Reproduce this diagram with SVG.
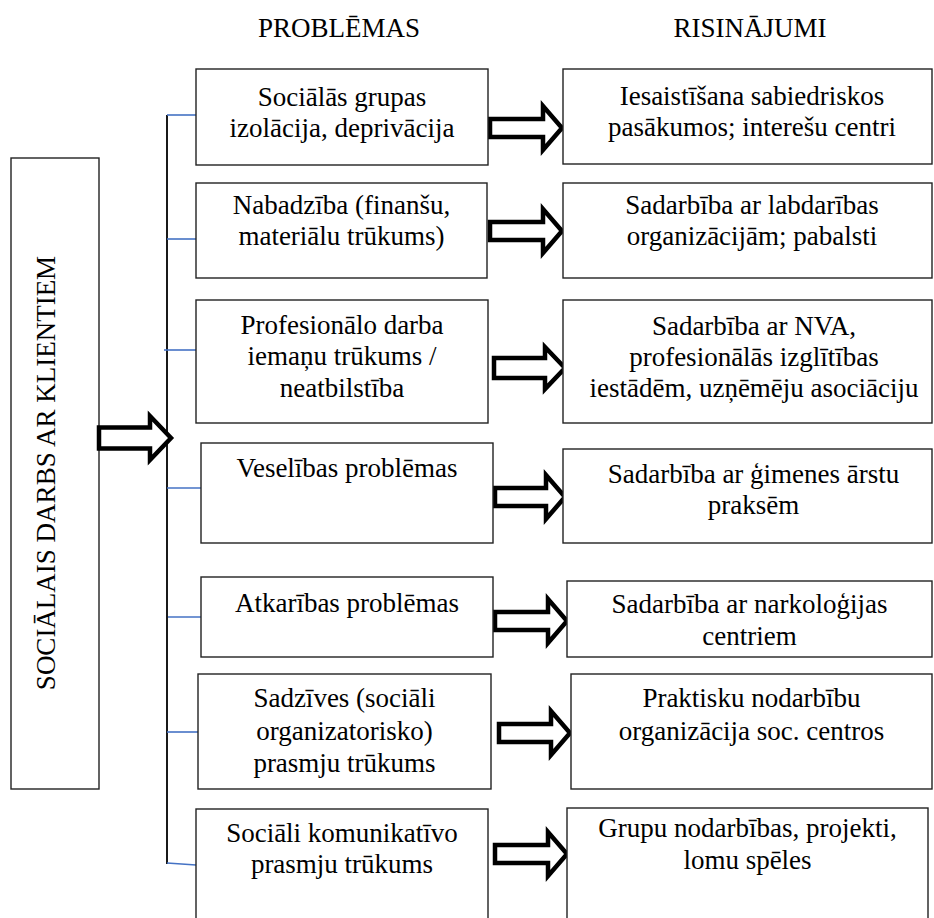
<svg xmlns="http://www.w3.org/2000/svg" width="934" height="918" viewBox="0 0 934 918">
<style>
.box{fill:#fff;stroke:#222;stroke-width:1.4}
.t{font-family:"Liberation Serif","Times New Roman",serif;font-size:27px;fill:#000;text-anchor:middle}
.arr{fill:#fff;stroke:#000;stroke-width:4.5;stroke-linejoin:miter}
.br{stroke:#4472C4;stroke-width:1.6;fill:none}
.spine{stroke:#000;stroke-width:1.8;fill:none}
</style>
<rect width="934" height="918" fill="#fff"/>
<g id="headers">
<text class="t" x="339" y="37">PROBLĒMAS</text>
<text class="t" x="750" y="37">RISINĀJUMI</text>
</g>
<g id="main">
<rect class="box" x="11" y="158" width="88" height="631"/>
<text class="t" transform="translate(55,473) rotate(-90)">SOCIĀLAIS DARBS AR KLIENTIEM</text>
</g>
<g id="connectors">
<line class="spine" x1="167" y1="115" x2="167" y2="864"/>
<line class="br" x1="167" y1="115" x2="196" y2="115"/>
<line class="br" x1="167" y1="239" x2="196" y2="239"/>
<line class="br" x1="164" y1="350" x2="196" y2="350"/>
<line class="br" x1="167" y1="488" x2="201" y2="488"/>
<line class="br" x1="168" y1="617" x2="201" y2="617"/>
<line class="br" x1="167" y1="732" x2="198" y2="732"/>
<line class="br" x1="167" y1="863" x2="196" y2="865"/>
<path class="arr" d="M99,427.5 H150 V416 L171,438 L150,460 V448.5 H99 Z"/>
<path class="arr" d="M490,119 H543 V106 L562,128 L543,150 V137 H490 Z"/>
<path class="arr" d="M490,222 H543 V209 L562,231 L543,253 V240 H490 Z"/>
<path class="arr" d="M494,358 H545 V347 L565,368 L545,389 V378 H494 Z"/>
<path class="arr" d="M495,488 H546 V475 L565,497 L546,519 V506 H495 Z"/>
<path class="arr" d="M495,612 H548 V599 L567,621 L548,643 V630 H495 Z"/>
<path class="arr" d="M499,724 H551 V711 L570,733 L551,755 V742 H499 Z"/>
<path class="arr" d="M495,845 H548 V832 L567,854 L548,876 V863 H495 Z"/>
</g>
<g id="p1"><rect class="box" x="196" y="69" width="292" height="96"/>
<text class="t" x="342" y="106">Sociālās grupas</text><text class="t" x="342" y="137">izolācija, deprivācija</text></g>
<g id="p2"><rect class="box" x="196" y="183" width="291" height="95"/>
<text class="t" x="341.5" y="214">Nabadzība (finanšu,</text><text class="t" x="341.5" y="245">materiālu trūkums)</text></g>
<g id="p3"><rect class="box" x="196" y="300" width="292" height="123"/>
<text class="t" x="342" y="334">Profesionālo darba</text><text class="t" x="342" y="365">iemaņu trūkums /</text><text class="t" x="342" y="397">neatbilstība</text></g>
<g id="p4"><rect class="box" x="201" y="443" width="292" height="100"/>
<text class="t" x="347" y="477">Veselības problēmas</text></g>
<g id="p5"><rect class="box" x="201" y="577" width="292" height="80"/>
<text class="t" x="347" y="612">Atkarības problēmas</text></g>
<g id="p6"><rect class="box" x="198" y="674" width="293" height="115"/>
<text class="t" x="344.5" y="707">Sadzīves (sociāli</text><text class="t" x="344.5" y="740">organizatorisko)</text><text class="t" x="344.5" y="772">prasmju trūkums</text></g>
<g id="p7"><rect class="box" x="196" y="809" width="292" height="120"/>
<text class="t" x="342" y="842">Sociāli komunikatīvo</text><text class="t" x="342" y="873">prasmju trūkums</text></g>
<g id="s1"><rect class="box" x="563" y="69" width="369" height="95"/>
<text class="t" x="752" y="105">Iesaistīšana sabiedriskos</text><text class="t" x="752" y="136">pasākumos; interešu centri</text></g>
<g id="s2"><rect class="box" x="563" y="183" width="369" height="95"/>
<text class="t" x="752" y="214">Sadarbība ar labdarības</text><text class="t" x="752" y="245">organizācijām; pabalsti</text></g>
<g id="s3"><rect class="box" x="563" y="300" width="369" height="123"/>
<text class="t" x="754" y="335">Sadarbība ar NVA,</text><text class="t" x="754" y="366">profesionālās izglītības</text><text class="t" x="754" y="397">iestādēm, uzņēmēju asociāciju</text></g>
<g id="s4"><rect class="box" x="563" y="449" width="369" height="94"/>
<text class="t" x="753.5" y="483">Sadarbība ar ģimenes ārstu</text><text class="t" x="753.5" y="514">praksēm</text></g>
<g id="s5"><rect class="box" x="567" y="581" width="365" height="76"/>
<text class="t" x="749.5" y="613">Sadarbība ar narkoloģijas</text><text class="t" x="749.5" y="645">centriem</text></g>
<g id="s6"><rect class="box" x="571" y="674" width="361" height="115"/>
<text class="t" x="751.5" y="707">Praktisku nodarbību</text><text class="t" x="751.5" y="740">organizācija soc. centros</text></g>
<g id="s7"><rect class="box" x="567" y="808" width="361" height="120"/>
<text class="t" x="747.5" y="837">Grupu nodarbības, projekti,</text><text class="t" x="747.5" y="869">lomu spēles</text></g>
</svg>
